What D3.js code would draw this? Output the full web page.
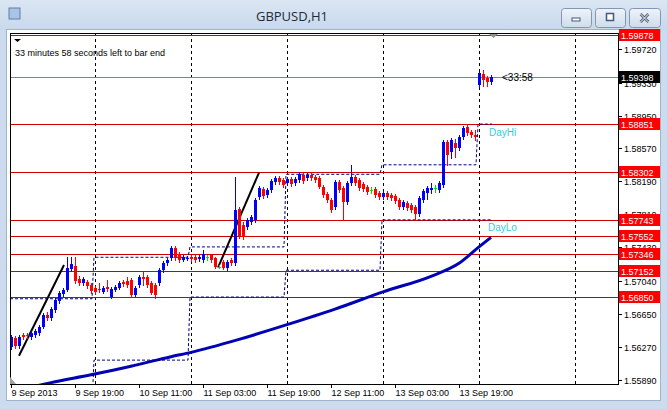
<!DOCTYPE html>
<html><head><meta charset="utf-8">
<script src="https://cdn.jsdelivr.net/npm/d3@7"></script>
<style>body{margin:0;background:#fff;} svg{display:block;font-family:"Liberation Sans",Arial,sans-serif;}</style>
</head><body><svg id="c" width="667" height="409"></svg>
<script>
// ---- data (H1 bars, first bar = 9 Sep 2013 03:00) ----
const open = [1.5627,1.5638,1.5628,1.5641,1.5641,1.5639,1.5641,1.5643,1.5650,1.5664,1.5661,1.5670,1.5680,1.5689,1.5693,1.5717,1.5721,1.5706,1.5701,1.5702,1.5699,1.5695,1.5694,1.5691,1.5697,1.5685,1.5693,1.5695,1.5702,1.5704,1.5705,1.5687,1.5699,1.5708,1.5708,1.5701,1.5699,1.5701,1.5716,1.5724,1.5730,1.5742,1.5735,1.5728,1.5729,1.5731,1.5731,1.5729,1.5728,1.5731,1.5734,1.5730,1.5720,1.5726,1.5719,1.5728,1.5724,1.5787,1.5768,1.5766,1.5772,1.5774,1.5801,1.5810,1.5803,1.5809,1.5818,1.5823,1.5820,1.5817,1.5822,1.5817,1.5820,1.5826,1.5823,1.5826,1.5824,1.5823,1.5812,1.5804,1.5797,1.5789,1.5818,1.5811,1.5795,1.5817,1.5824,1.5820,1.5816,1.5812,1.5809,1.5810,1.5805,1.5801,1.5805,1.5803,1.5802,1.5797,1.5789,1.5794,1.5792,1.5789,1.5781,1.5797,1.5805,1.5809,1.5811,1.5809,1.5815,1.5864,1.5853,1.5863,1.5857,1.5870,1.5882,1.5876,1.5872,1.5930,1.5943,1.5938,1.5934];
const high = [1.5641,1.5640,1.5641,1.5643,1.5643,1.5646,1.5648,1.5653,1.5667,1.5668,1.5674,1.5684,1.5692,1.5695,1.5731,1.5731,1.5731,1.5709,1.5708,1.5705,1.5701,1.5698,1.5701,1.5698,1.5705,1.5697,1.5699,1.5704,1.5705,1.5708,1.5707,1.5698,1.5711,1.5714,1.5711,1.5704,1.5701,1.5719,1.5727,1.5730,1.5744,1.5744,1.5737,1.5734,1.5733,1.5734,1.5734,1.5734,1.5739,1.5734,1.5735,1.5731,1.5722,1.5728,1.5728,1.5730,1.5824,1.5789,1.5772,1.5776,1.5780,1.5800,1.5814,1.5812,1.5811,1.5822,1.5825,1.5825,1.5823,1.5824,1.5824,1.5824,1.5830,1.5829,1.5829,1.5829,1.5826,1.5825,1.5815,1.5807,1.5800,1.5820,1.5820,1.5814,1.5819,1.5838,1.5826,1.5823,1.5818,1.5815,1.5812,1.5812,1.5808,1.5808,1.5808,1.5805,1.5804,1.5800,1.5797,1.5796,1.5794,1.5792,1.5802,1.5810,1.5814,1.5817,1.5815,1.5819,1.5867,1.5867,1.5869,1.5868,1.5872,1.5883,1.58851,1.5878,1.5878,1.5945,1.5948,1.5941,1.5942];
const low = [1.5625,1.5626,1.5626,1.5636,1.5638,1.5636,1.5639,1.5641,1.5649,1.5658,1.5658,1.5668,1.5678,1.5686,1.5692,1.5715,1.5701,1.5699,1.5699,1.5695,1.5690,1.5689,1.5691,1.5690,1.5692,1.5684,1.5692,1.5694,1.5698,1.5697,1.5686,1.5686,1.5697,1.5699,1.5697,1.5689,1.5684,1.5699,1.5714,1.5722,1.5728,1.5728,1.5726,1.5727,1.5728,1.5727,1.5726,1.5727,1.5726,1.5728,1.5726,1.5719,1.5719,1.5717,1.5716,1.5722,1.5722,1.5753,1.5752,1.5764,1.5770,1.5772,1.5798,1.5800,1.5801,1.5807,1.5816,1.5816,1.5812,1.5815,1.5814,1.5815,1.5818,1.5817,1.5820,1.5820,1.5818,1.5811,1.5801,1.5795,1.5783,1.5787,1.5807,1.5774,1.5793,1.5815,1.5815,1.5809,1.5808,1.5804,1.5805,1.5801,1.5798,1.5798,1.5798,1.5797,1.5794,1.5787,1.5787,1.5786,1.5783,1.57743,1.5779,1.5795,1.5798,1.5805,1.5807,1.5807,1.5812,1.5838,1.5846,1.5847,1.5855,1.5868,1.5872,1.5870,1.5867,1.5928,1.5929,1.5929,1.5931];
const close = [1.5639,1.5628,1.5639,1.5639,1.5640,1.5643,1.5646,1.5650,1.5664,1.5661,1.5671,1.5682,1.5690,1.5693,1.5719,1.5723,1.5704,1.5701,1.5706,1.5698,1.5692,1.5691,1.5693,1.5695,1.5694,1.5694,1.5697,1.5701,1.5700,1.5699,1.5687,1.5695,1.5708,1.5706,1.5699,1.5690,1.5687,1.5716,1.5724,1.5728,1.5742,1.5730,1.5728,1.5731,1.5730,1.5729,1.5728,1.5731,1.5735,1.5731,1.5728,1.5720,1.5720,1.5719,1.5726,1.5724,1.5786,1.5755,1.5755,1.5774,1.5778,1.5797,1.5811,1.5802,1.5809,1.5819,1.5823,1.5818,1.5815,1.5822,1.5816,1.5822,1.5827,1.5819,1.5826,1.5823,1.5820,1.5812,1.5803,1.5797,1.5786,1.5818,1.5809,1.5795,1.5817,1.5824,1.5817,1.5811,1.5810,1.5807,1.5809,1.5803,1.5801,1.5805,1.5801,1.5800,1.5796,1.5789,1.5795,1.5788,1.5786,1.5781,1.5800,1.5808,1.5811,1.5811,1.5811,1.5817,1.5864,1.5849,1.5867,1.5857,1.5870,1.5881,1.5875,1.5872,1.5870,1.5944,1.5936,1.5934,1.59398];

// moving average samples (bar index, price)
const maBars   = [0, 10, 20, 30, 40, 45, 57, 69, 81, 93, 105, 112, 117, 120];
const maValues = [1.5575,1.5586,1.5595,1.5605,1.5616,1.5621,1.5636,1.5653,1.5671,1.5691,1.5709,1.5724,1.5743,1.5754];

// previous-day high / low step lines
const dayStart = [0, 21, 45, 69, 93, 117];
const dayEnd   = [20, 44, 68, 92, 116, 120];
const prevHigh = [1.5683, 1.5731, 1.5743, 1.5827, 1.5838, 1.58851];
const prevLow  = [1.5560, 1.5612, 1.5685, 1.5716, 1.57743, 1.57743];

// day separators (bar index of 00:00)
const separators = [21, 45, 69, 93, 117, 141];

// trend lines [bar, price, bar, price]
const trendLines = [[2, 1.5617, 13.25, 1.5722], [51.75, 1.5719, 62, 1.5829]];

// price axis
const priceTicks = [1.59720,1.59330,1.58950,1.58570,1.58190,1.57810,1.57430,1.57040,1.56650,1.56270,1.55890];
const levels = [1.59878,1.58851,1.58302,1.57743,1.57552,1.57346,1.57152,1.56850];
const bid = 1.59398;

// time axis
const timeLabels = ["9 Sep 2013","9 Sep 19:00","10 Sep 11:00","11 Sep 03:00","11 Sep 19:00","12 Sep 11:00","13 Sep 03:00","13 Sep 19:00"];
const timeBars = [0,16,32,48,64,80,96,112];

const svg = d3.select("#c");
const W = 667, H = 409;
const PL = 10, PR = 618, PT = 33, PB = 384;

// ---- window chrome ----
const defs = svg.append("defs");
const g1 = defs.append("linearGradient").attr("id","tb").attr("x1",0).attr("y1",0).attr("x2",0).attr("y2",1);
g1.append("stop").attr("offset",0).attr("stop-color","#dbe6f3");
g1.append("stop").attr("offset",1).attr("stop-color","#c8d8eb");
const g2 = defs.append("linearGradient").attr("id","btn").attr("x1",0).attr("y1",0).attr("x2",0).attr("y2",1);
g2.append("stop").attr("offset",0).attr("stop-color","#eef3fa");
g2.append("stop").attr("offset",1).attr("stop-color","#cfdceb");
defs.append("clipPath").attr("id","plot").append("rect").attr("x",PL).attr("y",PT).attr("width",PR-PL).attr("height",PB-PT);

svg.append("rect").attr("width",W).attr("height",H).attr("fill","#ccdbee");
svg.append("rect").attr("width",W).attr("height",30).attr("fill","url(#tb)");
svg.append("rect").attr("x",6.5).attr("y",29.5).attr("width",654).attr("height",371).attr("fill","#fff").attr("stroke","#9fb3cb");

// title icon
svg.append("rect").attr("x",9).attr("y",8).attr("width",11).attr("height",11).attr("fill","#a9c4e4").attr("stroke","#5e7fa8");
svg.append("text").attr("x",292).attr("y",21).attr("text-anchor","middle").attr("font-family","'Open Sans','DejaVu Sans',sans-serif").attr("font-size",13).attr("fill","#1e2b3c").text("GBPUSD,H1");

const btns = [[561,30],[595,30],[629,31]];
btns.forEach(([bx,bw],k)=>{
  svg.append("rect").attr("x",bx+0.5).attr("y",8.5).attr("width",bw).attr("height",19).attr("rx",3).attr("fill","url(#btn)").attr("stroke","#8097b3");
  const cx = bx + bw/2, cy = 18;
  if(k===0) svg.append("rect").attr("x",cx-4).attr("y",cy).attr("width",8).attr("height",3).attr("fill","#fff").attr("stroke","#445a75");
  if(k===1) svg.append("rect").attr("x",cx-3.5).attr("y",cy-4.5).attr("width",7).attr("height",7).attr("fill","#fff").attr("stroke","#445a75").attr("stroke-width",1.5);
  if(k===2){ svg.append("path").attr("d",`M${cx-4},${cy-4}L${cx+4},${cy+4}M${cx+4},${cy-4}L${cx-4},${cy+4}`).attr("stroke","#445a75").attr("stroke-width",2.5);
             svg.append("path").attr("d",`M${cx-4},${cy-4}L${cx+4},${cy+4}M${cx+4},${cy-4}L${cx-4},${cy+4}`).attr("stroke","#fff").attr("stroke-width",1); }
});

// ---- scales ----
const x = d3.scaleLinear().domain([0,120]).range([11,491]);
const y = d3.scaleLinear().domain([1.55890,1.59720]).range([380,49]);

const plot = svg.append("g").attr("clip-path","url(#plot)");

// separators
separators.forEach(b=>{
  const xx = Math.round(x(b))+0.5;
  plot.append("line").attr("x1",xx).attr("x2",xx).attr("y1",PT).attr("y2",PB).attr("stroke","#000").attr("stroke-dasharray","3,3");
});

// levels
levels.forEach(v=>{
  const yy = Math.round(y(v))+0.5;
  plot.append("line").attr("x1",PL).attr("x2",PR).attr("y1",yy).attr("y2",yy).attr("stroke","#cc0000");
});
{ const yy = Math.round(y(bid))+0.5;
  plot.append("line").attr("x1",PL).attr("x2",PR).attr("y1",yy).attr("y2",yy).attr("stroke","#778899"); }

// MA
const maPts = maBars.map((b,i)=>[x(b), y(maValues[i])]);
plot.append("path").attr("d",d3.line().curve(d3.curveMonotoneX)(maPts)).attr("fill","none").attr("stroke","#0000b4").attr("stroke-width",3);

// step lines
function stepPts(vals){
  const pts=[];
  dayStart.forEach((s,i)=>{ pts.push([x(s)-1,y(vals[i])]); pts.push([x(dayEnd[i])+1,y(vals[i])]); });
  return pts;
}
[prevHigh, prevLow].forEach(v=>{
  plot.append("path").attr("d",d3.line()(stepPts(v))).attr("fill","none").attr("stroke","#000080").attr("stroke-dasharray","3,2");
});

// trend lines
trendLines.forEach(t=>{
  plot.append("line").attr("x1",x(t[0])).attr("y1",y(t[1])).attr("x2",x(t[2])).attr("y2",y(t[3])).attr("stroke","#000").attr("stroke-width",2);
});

// candles
const bars = d3.range(open.length);
const cg = plot.append("g").attr("shape-rendering","crispEdges");
bars.forEach(i=>{
  const o=open[i], h=high[i], l=low[i], c=close[i];
  const col = c>o ? "#0000ff" : (c<o ? "#ff0000" : "#00e000");
  const cx = Math.round(x(i));
  cg.append("line").attr("x1",cx+0.5).attr("x2",cx+0.5).attr("y1",Math.round(y(h))).attr("y2",Math.round(y(l))+1).attr("stroke",col);
  const top = Math.round(y(Math.max(o,c))), bot = Math.round(y(Math.min(o,c)));
  cg.append("rect").attr("x",cx-1).attr("y",top).attr("width",3).attr("height",Math.max(1,bot-top)).attr("fill",col);
});

// plot frame
svg.append("rect").attr("x",PL+0.5).attr("y",PT+0.5).attr("width",PR-PL).attr("height",PB-PT).attr("fill","none").attr("stroke","#000");

// price axis
priceTicks.forEach(v=>{
  const yy = Math.round(y(v))+0.5;
  svg.append("line").attr("x1",PR).attr("x2",PR+4).attr("y1",yy).attr("y2",yy).attr("stroke","#000");
  svg.append("text").attr("x",624).attr("y",yy+3.5).attr("font-size",9).attr("fill","#000").text(v.toFixed(5));
});
levels.forEach(v=>{
  const yy = Math.round(y(v));
  svg.append("rect").attr("x",619).attr("y",yy-6).attr("width",41).attr("height",12).attr("fill","#ff0000");
  svg.append("text").attr("x",621).attr("y",yy+4).attr("font-size",9).attr("fill","#fff").text(v.toFixed(5));
});
{ const yy = Math.round(y(bid));
  svg.append("rect").attr("x",619).attr("y",yy-6).attr("width",41).attr("height",12).attr("fill","#000");
  svg.append("text").attr("x",621).attr("y",yy+4).attr("font-size",9).attr("fill","#fff").text(bid.toFixed(5)); }

// time axis
timeBars.forEach((b,i)=>{
  const xx = Math.round(x(b))+0.5;
  svg.append("line").attr("x1",xx).attr("x2",xx).attr("y1",PB).attr("y2",PB+4).attr("stroke","#000");
  svg.append("text").attr("x",xx).attr("y",396).attr("font-size",9).attr("fill","#000").text(timeLabels[i]);
});

// markers
svg.append("path").attr("d","M10,384L10,377L16,384Z").attr("fill","#a0a0a0");
svg.append("path").attr("d","M489,34L498,34L493.5,38Z").attr("fill","#909090");
svg.append("path").attr("d","M14,39L21,39L17.5,42Z").attr("fill","#000");

// texts
svg.append("text").attr("x",15).attr("y",56).attr("font-size",9).attr("fill","#000").text("33 minutes 58 seconds left to bar end");
svg.append("text").attr("x",502).attr("y",81).attr("font-size",10).attr("fill","#000").text("<33:58");
svg.append("text").attr("x",489).attr("y",136).attr("font-size",10).attr("fill","#33ccdd").text("DayHi");
svg.append("text").attr("x",488).attr("y",231).attr("font-size",10).attr("fill","#33ccdd").text("DayLo");
</script></body></html>
